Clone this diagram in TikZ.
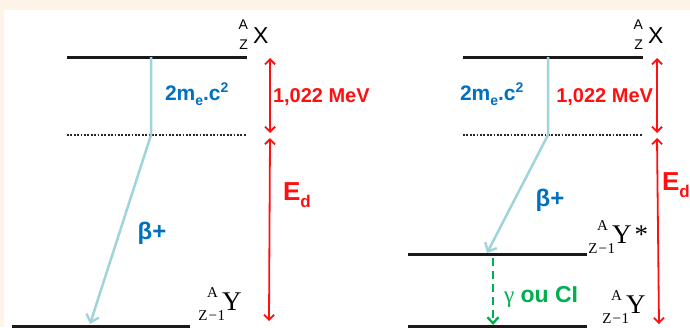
\documentclass[tikz,border=0pt]{standalone}
\usepackage{fontspec}
\setmainfont{Liberation Sans}
\newfontfamily\ser{Liberation Serif}
\usetikzlibrary{arrows.meta}
\definecolor{beige}{HTML}{FDF3E7}
\definecolor{txtblue}{HTML}{0070C0}
\definecolor{lineblue}{HTML}{A0D4DC}
\definecolor{myred}{HTML}{FF1010}
\definecolor{mygreen}{HTML}{00B050}
\newcommand\isoY[1]{{\ser\fontsize{15}{15}\selectfont\llap{\raisebox{13pt}{A}\kern4pt}\llap{\raisebox{-10pt}{Z\kern1pt−\kern0.5pt1}\kern-3pt}}{\ser\fontsize{27}{27}\selectfont Y#1}}
\newcommand\isoX{{\fontsize{14}{14}\selectfont\llap{\raisebox{14pt}{A}\kern5pt}\llap{\raisebox{-6pt}{Z}\kern5pt}}{\fontsize{23}{23}\selectfont X}}
\newcommand\mec{2m\raisebox{-5pt}{\fontsize{14}{14}\selectfont e}.c\raisebox{7.5pt}{\fontsize{14}{14}\selectfont 2}}
\newcommand\Ed{E\raisebox{-7pt}{\fontsize{17}{17}\selectfont d}}
\begin{document}
\begin{tikzpicture}[x=1pt,y=-1pt,
  level/.style={line width=3pt,black!90},
  dotlevel/.style={line width=2pt,black!85,dash pattern=on 1.8pt off 1.6pt},
  trans/.style={draw=lineblue,line width=2.5pt,line join=round,-{Straight Barb[length=7pt,width=13pt,line width=2.4pt]}},
  energy/.style={draw=myred,line width=1.8pt,{Straight Barb[length=5pt,width=10pt]}-{Straight Barb[length=5pt,width=10pt]}},
  gamma/.style={draw=mygreen,line width=2.6pt,dash pattern=on 8pt off 5pt,-{Straight Barb[length=6pt,width=11pt,line width=2.4pt]}},
  lbl/.style={inner sep=0pt,outer sep=0pt},
  bluetxt/.style={lbl,text=txtblue,font=\bfseries\fontsize{21}{24}\selectfont},
  redtxt/.style={lbl,text=myred,font=\bfseries\fontsize{20}{24}\selectfont},
  edtxt/.style={lbl,text=myred,font=\bfseries\fontsize{26}{30}\selectfont},
  greentxt/.style={lbl,text=mygreen,font=\bfseries\fontsize{23}{26}\selectfont}]
\useasboundingbox (0,0) rectangle (690,327);
\fill[beige] (0,0) rectangle (690,327);
\fill[white] (4,10) rectangle (690,327);
% coordinates
\coordinate (LT1) at (67,57); \coordinate (LT2) at (247,57);
\coordinate (LD1) at (67,135); \coordinate (LD2) at (247,135);
\coordinate (LB1) at (12,326); \coordinate (LB2) at (190,326);
\coordinate (RT1) at (463,57); \coordinate (RT2) at (643,57);
\coordinate (RD1) at (463,135); \coordinate (RD2) at (643,135);
\coordinate (RM1) at (408,254); \coordinate (RM2) at (587,254);
\coordinate (RB1) at (408,326); \coordinate (RB2) at (587,326);
\coordinate (Lb0) at (151,57); \coordinate (Lb1) at (151,135); \coordinate (Lb2) at (90,324);
\coordinate (Rb0) at (548,57); \coordinate (Rb1) at (548,135); \coordinate (Rb2) at (487,253);
\coordinate (Lr0) at (270,58); \coordinate (Lr1) at (270,133);
\coordinate (Lr2) at (270,138); \coordinate (Lr3) at (269,321);
\coordinate (Rr0) at (657,58); \coordinate (Rr1) at (657,133);
\coordinate (Rr2) at (657,138); \coordinate (Rr3) at (659,324);
\coordinate (G0) at (493,258); \coordinate (G1) at (493,325);
% levels
\draw[level] (LT1) -- (LT2);
\draw[dotlevel] (LD1) -- (LD2);
\draw[level] (LB1) -- (LB2);
\draw[level] (RT1) -- (RT2);
\draw[dotlevel] (RD1) -- (RD2);
\draw[level] (RM1) -- (RM2);
\draw[level] (RB1) -- (RB2);
% transitions
\draw[trans] (Lb0) -- (Lb1) -- (Lb2);
\draw[trans] (Rb0) -- (Rb1) -- (Rb2);
\draw[gamma] (G0) -- (G1);
% energies
\draw[energy] (Lr0) -- (Lr1);
\draw[energy] (Lr2) -- (Lr3);
\draw[energy] (Rr0) -- (Rr1);
\draw[energy] (Rr2) -- (Rr3);
% labels
\node[lbl,anchor=base west] (LX) at (253,43) {\isoX};
\node[lbl,anchor=base west] (RX) at (648,43) {\isoX};
\node[lbl,anchor=base west] (LY) at (222,310) {\isoY{}};
\node[lbl,anchor=base west] (RYs) at (612,243) {\isoY{\kern3pt*}};
\node[lbl,anchor=base west] (RY) at (626,313) {\isoY{}};
\node[bluetxt,anchor=base west] (Lmec) at (165,100) {\mec};
\node[bluetxt,anchor=base west] (Rmec) at (460,100) {\mec};
\node[redtxt,anchor=base west] (Lmev) at (273,102) {1,022 MeV};
\node[redtxt,anchor=base east] (Rmev) at (653,102) {1,022 MeV};
\node[edtxt,anchor=base west] (LEd) at (283,200) {\Ed};
\node[edtxt,anchor=base west] (REd) at (662,190) {\Ed};
\node[bluetxt,font=\bfseries\fontsize{24}{26}\selectfont] (Lbeta) at (152,233) {β+};
\node[bluetxt,font=\bfseries\fontsize{24}{26}\selectfont] (Rbeta) at (550,200) {β+};
\node[greentxt,anchor=base west] (gam) at (504,302) {{\ser\mdseries γ} ou CI};
\end{tikzpicture}
\end{document}
